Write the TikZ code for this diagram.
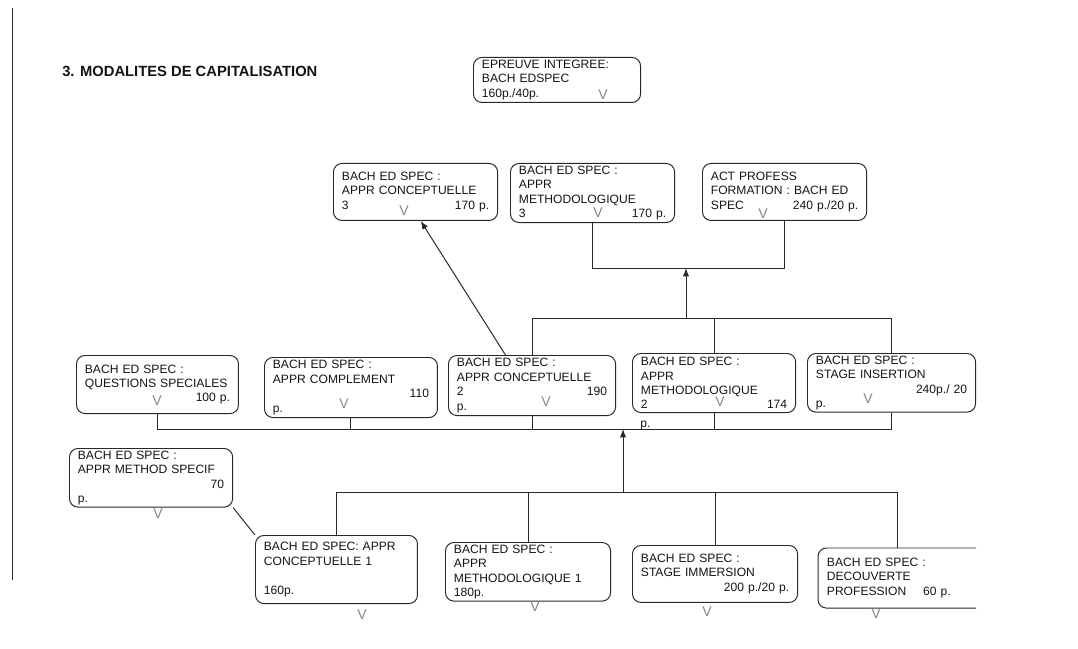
\documentclass[tikz,border=0pt]{standalone}
\usepackage{fontspec}
\setmainfont{Liberation Sans}
\usetikzlibrary{arrows.meta}
\definecolor{inkline}{RGB}{40, 40, 40}
\definecolor{inktext}{RGB}{20, 20, 20}
\definecolor{inktick}{RGB}{135, 135, 135}

\begin{document}
\begin{tikzpicture}[x=0.025cm, y=-0.025cm,
  box/.style={draw=inkline, line width=0.7pt, rounded corners=6pt, anchor=north west,
    align=left, inner xsep=6pt, inner ysep=1.5pt, text=inktext,
    font=\fontsize{8.6pt}{10.3pt}\selectfont},
  tick/.style={text=inktick, inner sep=0pt, font=\fontsize{10pt}{10pt}\selectfont},
  wire/.style={draw=inkline, line width=0.7pt},
  up/.style={wire, -{Latex[length=6pt,width=4.5pt]}}]
\useasboundingbox (0,0) rectangle (1078,649);

% margin rule and heading
\draw[wire] (12,8) -- (12,580);
\node[anchor=west, inner sep=0pt, text=inktext, font=\fontsize{10.5pt}{12pt}\selectfont\bfseries] (title) at (62,71) {3. MODALITES DE CAPITALISATION};

% final exam
\node[box, text width=106.8pt, minimum height=32pt] (epreuve) at (473,57) {EPREUVE INTEGREE:\\BACH EDSPEC\\160p./40p.};
\node[tick] (vepreuve) at (603,95) {V};

% level 3
\node[box, text width=104.7pt, minimum height=40.5pt] (conc3) at (333,163) {BACH ED SPEC :\\APPR CONCEPTUELLE\\3\hfill 170 p.};
\node[box, text width=104.7pt, minimum height=42pt] (meth3) at (510,163) {BACH ED SPEC :\\APPR\\METHODOLOGIQUE\\3\hfill 170 p.};
\node[box, text width=104.7pt, minimum height=40.5pt] (actprof) at (702,163) {ACT PROFESS\\FORMATION : BACH ED\\SPEC\hfill 240 p./20 p.};
\node[tick] (vconc3) at (404,211) {V};
\node[tick] (vmeth3) at (598,213) {V};
\node[tick] (vactprof) at (763,214) {V};

% level 2
\node[box, text width=103.2pt, minimum height=41.3pt] (questspec) at (76,355) {BACH ED SPEC :\\QUESTIONS SPECIALES\\\hfill 100 p.};
\node[box, text width=111pt, minimum height=42.7pt] (apprcomp) at (264,357) {BACH ED SPEC :\\APPR COMPLEMENT\\\hfill 110\hspace{5pt}\\p.};
\node[box, text width=106.8pt, minimum height=42.7pt] (conc2) at (448,355) {BACH ED SPEC :\\APPR CONCEPTUELLE\\2\hfill 190\hspace{7pt}\\p.};
\node[box, text width=104pt, minimum height=42pt] (meth2) at (632,353) {BACH ED SPEC :\\APPR\\METHODOLOGIQUE\\2\hfill 174\hspace{7pt}};
\node[anchor=west, inner sep=0pt, text=inktext, font=\fontsize{8.6pt}{10.3pt}\selectfont] (meth2p) at (640,426) {p.};
\node[box, text width=107.5pt, minimum height=39pt] (stageins) at (807,353) {BACH ED SPEC :\\STAGE INSERTION\\\hfill 240p./ 20\hspace{7pt}\\p.};
\node[tick] (vquestspec) at (157,401) {V};
\node[tick] (vapprcomp) at (344,404) {V};
\node[tick] (vconc2) at (546,402) {V};
\node[tick] (vmeth2) at (720,402) {V};
\node[tick] (vstageins) at (868,399) {V};

% level 1
\node[box, text width=104pt, minimum height=41.3pt] (methspec) at (69,448) {BACH ED SPEC :\\APPR METHOD SPECIF\\\hfill 70\hspace{8pt}\\p.};
\node[box, text width=103.2pt, minimum height=48.4pt] (conc1) at (255,535) {BACH ED SPEC: APPR\\CONCEPTUELLE 1\\[10.3pt]160p.};
\node[box, text width=105.4pt, minimum height=41.3pt] (meth1) at (445,542) {BACH ED SPEC :\\APPR\\METHODOLOGIQUE 1\\180p.};
\node[box, text width=105.4pt, minimum height=40.5pt] (stageimm) at (632,545) {BACH ED SPEC :\\STAGE IMMERSION\\\hfill 200 p./20 p.\hspace{3pt}};
\node[box, draw=none, text width=99.7pt, minimum height=42pt] (decprof) at (818,548) {BACH ED SPEC :\\DECOUVERTE\\PROFESSION\hspace{12pt}60 p.};
\draw[wire, rounded corners=6pt] (decprof.north east) -| (decprof.south west) -- (decprof.south east);
\node[tick] (vmethspec) at (158,514) {V};
\node[tick] (vconc1) at (362,615) {V};
\node[tick] (vmeth1) at (535,607) {V};
\node[tick] (vstageimm) at (707,612) {V};
\node[tick] (vdecprof) at (876,614) {V};

% junctions
\coordinate (j3) at (686,268);
\coordinate (j2) at (686,318);
\coordinate (j1) at (623,429);
\coordinate (j0) at (623,492);

% level 1 to level 2
\draw[wire] (conc1.north) |- (decprof.north |- j0) -- (decprof.north);
\draw[wire] (meth1.north) -- (meth1.north |- j0);
\draw[wire] (stageimm.north) -- (stageimm.north |- j0);
\draw[wire] (methspec.south east) -- (conc1.north west);
\draw[up] (j0) -- (j1);

% level 2 to level 3
\draw[wire] (questspec.south) |- (stageins.south |- j1) -- (stageins.south);
\draw[wire] (apprcomp.south) -- (apprcomp.south |- j1);
\draw[wire] (conc2.south) -- (conc2.south |- j1);
\draw[wire] (meth2.south) -- (meth2.south |- j1);
\draw[wire] (conc2.north) |- (stageins.north |- j2) -- (stageins.north);
\draw[wire] (meth2.north) -- (meth2.north |- j2);
\draw[up] (j2) -- (j3);
\draw[up] (conc2.131) -- (conc3.-80);

% level 3 junction
\draw[wire] (meth3.south) |- (actprof.south |- j3) -- (actprof.south);
\end{tikzpicture}
\end{document}
